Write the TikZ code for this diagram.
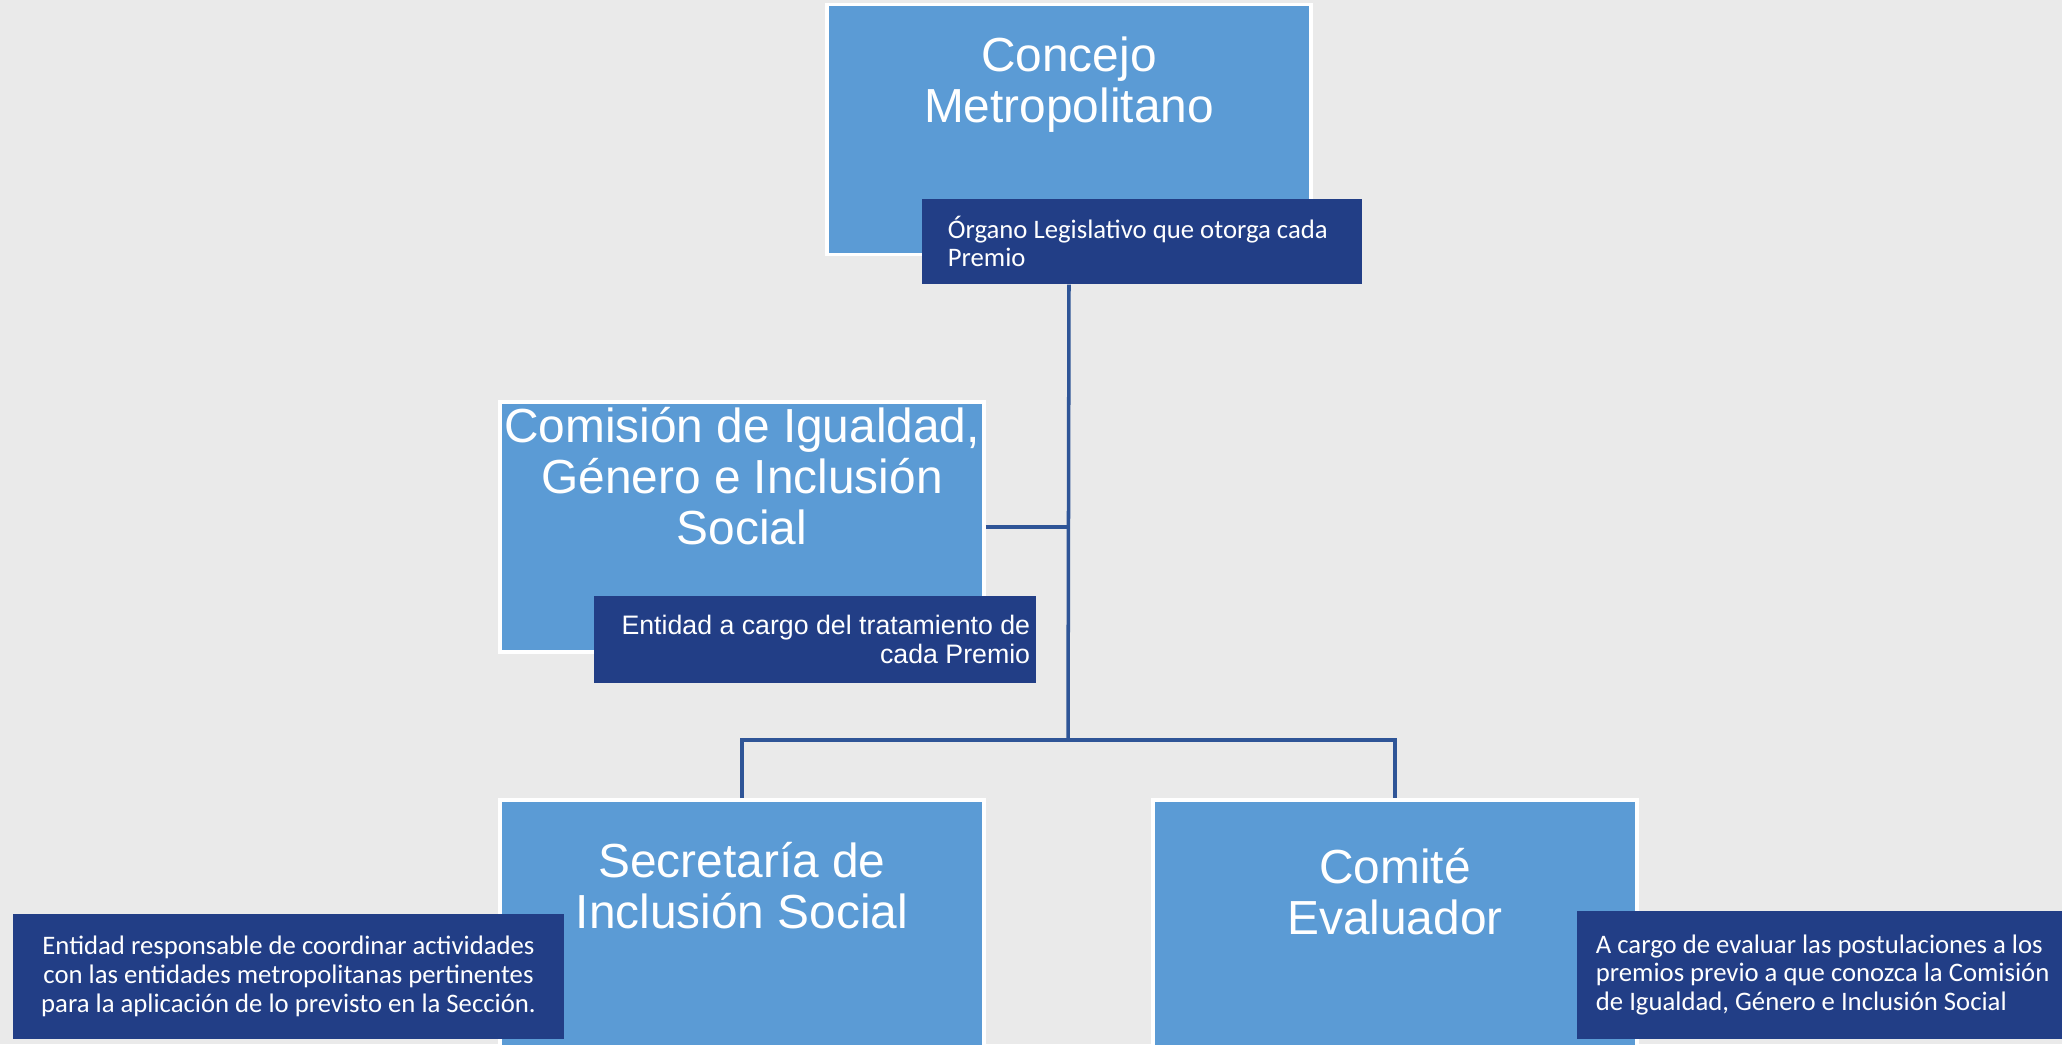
\documentclass[tikz,border=0pt]{standalone}
\usepackage{fontspec}
\setmainfont{Liberation Sans}
\newfontfamily\calibri{Carlito}
\usetikzlibrary{positioning}
\definecolor{boxblue}{RGB}{91,155,213}
\definecolor{noteblue}{RGB}{34,62,134}
\definecolor{linkblue}{RGB}{47,85,151}
\definecolor{paper}{RGB}{234,234,234}

\begin{document}
\begin{tikzpicture}[x=0.01cm, y=-0.01cm,
    org/.style={fill=boxblue, draw=white, line width=1pt, minimum width=4.84cm, minimum height=2.5cm, inner sep=0pt},
    orgtext/.style={text=white, align=center, inner sep=0pt, font=\fontsize{13.6}{14.5}\selectfont},
    note/.style={fill=noteblue, text=white, inner ysep=0pt, font=\calibri\fontsize{7.6}{8.2}\selectfont},
    link/.style={draw=linkblue, line width=1pt}]
    \useasboundingbox (0,0) rectangle (2062,1044);
    \fill[paper] (0,0) rectangle (2062,1044);

    % boxes
    \node[org] (concejo) at (1069,129.5) {};
    \node[org] (comision) at (742,527) {};
    \node[org, minimum height=2.6cm] (secretaria) at (742,930) {};
    \node[org, minimum height=2.6cm] (comite) at (1395,930) {};

    \node[orgtext, below=0.33cm of concejo.north] (concejoT) {Concejo\\Metropolitano};
    \node[orgtext, below=0.06cm of comision.north] (comisionT) {Comisión de Igualdad,\\Género e Inclusión\\Social};
    \node[orgtext, below=0.43cm of secretaria.north] (secretariaT) {Secretaría de\\Inclusión Social};
    \node[orgtext, below=0.49cm of comite.north] (comiteT) {Comité\\Evaluador};

    % notes
    \node[note, minimum height=0.85cm, inner xsep=0.26cm, text width=3.88cm, align=flush left] (concejoN) at (1142,241.5)
        {Órgano Legislativo que otorga cada\\Premio};
    \node[note, minimum height=0.87cm, inner xsep=0.06cm, text width=4.30cm, align=flush right, font=\fontsize{7.6}{8.2}\selectfont] (comisionN) at (815,639.5)
        {Entidad a cargo del tratamiento de\\cada Premio};
    \node[note, minimum height=1.25cm, inner xsep=0.1cm, text width=5.31cm, align=flush center] (secretariaN) at (288.5,976.5)
        {Entidad responsable de coordinar actividades\\con las entidades metropolitanas pertinentes\\para la aplicación de lo previsto en la Sección.};
    \node[note, minimum height=1.28cm, inner xsep=0.19cm, text width=4.72cm, align=flush left] (comiteN) at (1832,975)
        {A cargo de evaluar las postulaciones a los\\premios previo a que conozca la Comisión\\de Igualdad, Género e Inclusión Social};

    % connectors
    \coordinate (bus) at (1068,740);
    \draw[link] (concejo.south |- concejoN.south) -- (bus);
    \draw[link] (comision.east) -- (comision.east -| bus);
    \draw[link] (secretaria.north) |- (bus) -| (comite.north);
\end{tikzpicture}
\end{document}
